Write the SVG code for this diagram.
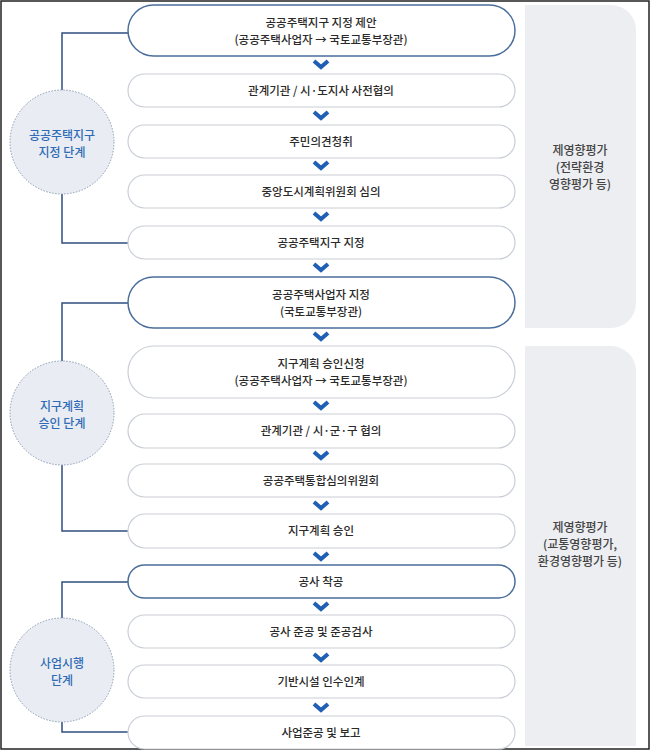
<svg xmlns="http://www.w3.org/2000/svg" width="650" height="750" viewBox="0 0 650 750">
<style>
text{font-family:"Noto Sans CJK KR","Noto Sans",sans-serif;font-size:11.5px;fill:#2a2a2a;text-anchor:middle;font-weight:500}
.b{fill:#fff;stroke:#c9ced6;stroke-width:1.2}
.d{fill:#fff;stroke:#4a6e9c;stroke-width:1.5}
.c{fill:#e9edf3;stroke:#8a9bb5;stroke-width:1;stroke-dasharray:1.5 1.5}
.ct{fill:#2f6cb5;font-size:12px}
.l{fill:none;stroke:#2e4f7e;stroke-width:1.5}
.ch{fill:none;stroke:#1f5fb5;stroke-width:4}
.p{fill:#eceef2}
.pt{fill:#444;font-size:12px}
</style>
<rect x="1" y="1" width="648" height="748" fill="#fff" stroke="#222" stroke-width="1.5"/>
<g id="panel1"><path class="p" d="M525 5H611a25 25 0 0 1 25 25V303a25 25 0 0 1-25 25H525Z"/>
<text class="pt" x="580" y="155">제영향평가</text><text class="pt" x="580" y="172">(전략환경</text><text class="pt" x="580" y="189">영향평가 등)</text></g>
<g id="panel2"><path class="p" d="M525 346H611a25 25 0 0 1 25 25V746H525Z"/>
<text class="pt" x="580" y="532">제영향평가</text><text class="pt" x="580" y="549">(교통영향평가,</text><text class="pt" x="580" y="566">환경영향평가 등)</text></g>
<g id="connectors">
<path class="l" d="M62 90V33H128M62 194V243H128M62 361V303H128M62 465V531H128M62 618V582H128M62 722V732H128"/>
<g class="ch">
<path d="M314 61l7 6 7-6"/><path d="M314 112l7 6 7-6"/><path d="M314 162l7 6 7-6"/><path d="M314 213l7 6 7-6"/><path d="M314 264l7 6 7-6"/><path d="M314 333l7 6 7-6"/><path d="M314 402l7 6 7-6"/><path d="M314 452l7 6 7-6"/><path d="M314 502l7 6 7-6"/><path d="M314 553l7 6 7-6"/><path d="M314 603l7 6 7-6"/><path d="M314 654l7 6 7-6"/><path d="M314 704l7 6 7-6"/>
</g></g>
<g id="c1"><circle class="c" cx="62" cy="142" r="52"/><text class="ct" x="62" y="140">공공주택지구</text><text class="ct" x="62" y="157">지정 단계</text></g>
<g id="c2"><circle class="c" cx="62" cy="413" r="52"/><text class="ct" x="62" y="411">지구계획</text><text class="ct" x="62" y="428">승인 단계</text></g>
<g id="c3"><circle class="c" cx="62" cy="670" r="52"/><text class="ct" x="62" y="668">사업시행</text><text class="ct" x="62" y="685">단계</text></g>
<g id="n1"><rect class="d" x="128" y="5" width="387" height="51" rx="25.5"/><text x="321" y="27">공공주택지구 지정 제안</text><text x="321" y="44">(공공주택사업자 → 국토교통부장관)</text></g>
<g id="n2"><rect class="b" x="128" y="74" width="387" height="33" rx="16.5"/><text x="321" y="95">관계기관 / 시·도지사 사전협의</text></g>
<g id="n3"><rect class="b" x="128" y="125" width="387" height="33" rx="16.5"/><text x="321" y="146">주민의견청취</text></g>
<g id="n4"><rect class="b" x="128" y="175" width="387" height="33" rx="16.5"/><text x="321" y="196">중앙도시계획위원회 심의</text></g>
<g id="n5"><rect class="b" x="128" y="226" width="387" height="33" rx="16.5"/><text x="321" y="247">공공주택지구 지정</text></g>
<g id="n6"><rect class="d" x="128" y="277" width="387" height="51" rx="25.5"/><text x="321" y="299">공공주택사업자 지정</text><text x="321" y="316">(국토교통부장관)</text></g>
<g id="n7"><rect class="b" x="128" y="346" width="387" height="52" rx="26"/><text x="321" y="368">지구계획 승인신청</text><text x="321" y="385">(공공주택사업자 → 국토교통부장관)</text></g>
<g id="n8"><rect class="b" x="128" y="414" width="387" height="34" rx="17"/><text x="321" y="435">관계기관 / 시·군·구 협의</text></g>
<g id="n9"><rect class="b" x="128" y="464" width="387" height="33" rx="16.5"/><text x="321" y="485">공공주택통합심의위원회</text></g>
<g id="n10"><rect class="b" x="128" y="514" width="387" height="34" rx="17"/><text x="321" y="535">지구계획 승인</text></g>
<g id="n11"><rect class="d" x="128" y="565" width="387" height="33" rx="16.5"/><text x="321" y="586">공사 착공</text></g>
<g id="n12"><rect class="b" x="128" y="615" width="387" height="33" rx="16.5"/><text x="321" y="636">공사 준공 및 준공검사</text></g>
<g id="n13"><rect class="b" x="128" y="665" width="387" height="33" rx="16.5"/><text x="321" y="686">기반시설 인수인계</text></g>
<g id="n14"><rect class="b" x="128" y="716" width="387" height="33" rx="16.5"/><text x="321" y="737">사업준공 및 보고</text></g>
</svg>
